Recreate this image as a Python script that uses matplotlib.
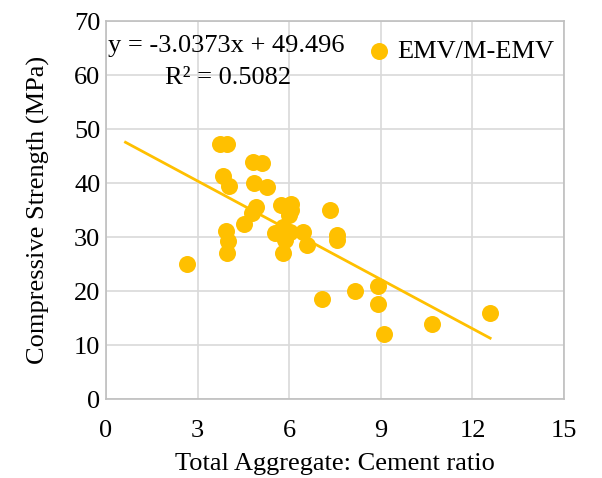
import matplotlib
matplotlib.use("Agg")
from matplotlib import pyplot as plt
import numpy as np

# data
ratio = [2.64, 3.73, 3.97, 3.84, 4.04, 3.93, 4.0, 3.97, 4.52, 4.83, 5.1,
         4.86, 5.26, 4.91, 4.77, 5.72, 5.54, 6.05, 6.05, 6.0, 5.81, 5.86,
         6.03, 5.86, 6.46, 6.57, 5.81, 7.34, 7.56, 7.56, 7.09, 8.16, 8.9,
         8.9, 9.12, 10.69, 12.58]
strength = [25.0, 47.3, 47.3, 41.3, 39.4, 31.2, 29.3, 27.1, 32.4, 43.9, 43.8,
            40.1, 39.2, 35.6, 34.4, 35.9, 30.7, 36.2, 35.0, 34.1, 31.9, 30.7,
            31.0, 29.4, 31.0, 28.5, 27.0, 35.1, 30.4, 29.4, 18.5, 20.1, 21.0,
            17.6, 12.0, 14.0, 16.0]
slope, intercept = -3.0373, 49.496
r2 = 0.5082
series_name = "EMV/M-EMV"

plt.rcParams["font.family"] = ["Liberation Serif", "DejaVu Serif"]
fs = 19

gold = "#FFC000"
grid_c = "#D9D9D9"

fig = plt.figure(figsize=(6.02, 4.78), dpi=100)
ax = fig.add_axes([0.176, 0.165, 0.761, 0.791])

ax.scatter(ratio, strength, s=150, color=gold, zorder=3, label=series_name,
           linewidths=0)

# trendline (backward forecast of 2)
xs = np.array([min(ratio) - 2, max(ratio)])
ax.plot(xs, slope * xs + intercept, color=gold, lw=2.0, zorder=2)

ax.set_xlim(0, 15)
ax.set_ylim(0, 70)
ax.set_xticks(range(0, 16, 3))
ax.set_yticks(range(0, 71, 10))
ax.grid(True, color=grid_c, lw=1.2, zorder=0)
ax.set_axisbelow(True)
ax.tick_params(axis="x", length=0, pad=15, labelsize=fs)
ax.tick_params(axis="y", length=0, pad=4, labelsize=fs)
for sp in ax.spines.values():
    sp.set_color("#BFBFBF")
    sp.set_linewidth(1.2)

ax.set_xlabel("Total Aggregate: Cement ratio", fontsize=fs, labelpad=8)
ax.set_ylabel("Compressive Strength (MPa)", fontsize=fs, labelpad=17)

ax.text(0.004, 0.935, "y = %.4fx + %.3f" % (slope, intercept),
        transform=ax.transAxes, fontsize=fs, va="center", ha="left")
ax.text(0.128, 0.85, "R² = %.4f" % r2,
        transform=ax.transAxes, fontsize=fs, va="center", ha="left")

leg = ax.legend(loc="upper right", bbox_to_anchor=(1.008, 0.985), frameon=False,
                fontsize=fs, handlelength=0.6, handletextpad=0.4,
                borderaxespad=0.1, markerscale=1.0)

fig.savefig("out.png", dpi=100)
